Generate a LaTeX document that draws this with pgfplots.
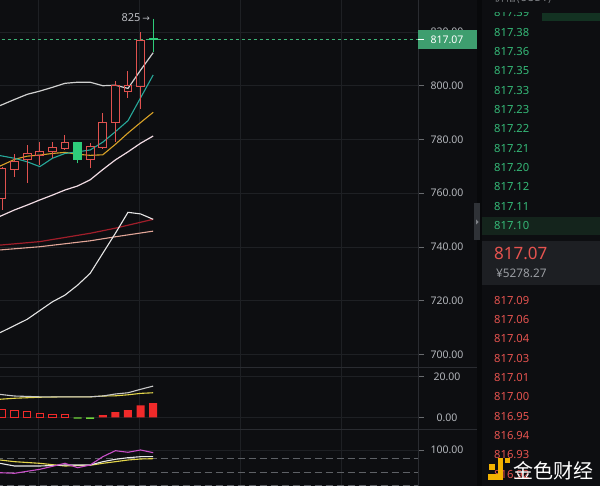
\documentclass[border=0pt]{standalone}
\usepackage{pgfplots}
\pgfplotsset{compat=1.18}
\usepackage{pgfplotstable}
\usepgfplotslibrary{statistics}
\usepackage{fontspec}
\setmainfont{Noto Sans}
\newfontfamily\cjk{Noto Sans CJK SC}
\newfontfamily\dejavu{DejaVu Sans}

\definecolor{bg}{HTML}{0D0E11}
\definecolor{gridc}{HTML}{1E2024}
\definecolor{sepc}{HTML}{2A2C31}
\definecolor{lab}{HTML}{B2B5BA}
\definecolor{candred}{HTML}{E0524F}
\definecolor{candgreen}{HTML}{2ECC7A}
\definecolor{dashg}{HTML}{3DB276}
\definecolor{tagg}{HTML}{3E9E6F}
\definecolor{ubc}{HTML}{D0D0D0}
\definecolor{ma5c}{HTML}{27A89A}
\definecolor{ma10c}{HTML}{D9A227}
\definecolor{lbc}{HTML}{F2DCE4}
\definecolor{mar}{HTML}{A01E2A}
\definecolor{mas}{HTML}{E2A698}
\definecolor{maw}{HTML}{E6E6E6}
\definecolor{macdr}{HTML}{F02A2A}
\definecolor{macdg}{HTML}{6ED43A}
\definecolor{difc}{HTML}{C8C8C8}
\definecolor{deac}{HTML}{E3D54A}
\definecolor{jc}{HTML}{C94FC9}
\definecolor{kc}{HTML}{E8E8E8}
\definecolor{dashgray}{HTML}{5E6166}
\definecolor{obg}{HTML}{35B877}
\definecolor{obr}{HTML}{E5534F}
\definecolor{obgray}{HTML}{9A9DA2}
\definecolor{band}{HTML}{1D1F23}
\definecolor{rowg}{HTML}{14241C}
\definecolor{depthg}{HTML}{133222}
\definecolor{logoy}{HTML}{F2B200}
\definecolor{stripe}{HTML}{08090B}
\definecolor{handlec}{HTML}{2F3237}

\newcommand\tickfont{\fontsize{10.5}{12}\selectfont}
\newcommand\obfont{\fontsize{11.2}{13}\selectfont}

% candles: i open close high low bodybottom bodytop
\pgfplotstableread{
i o c h l bb bt
0 758.1 769.3 769.6 753.8 758.1 769.3
1 768.9 771.7 774.6 765.9 768.9 771.7
2 772.4 774.6 777.8 763.9 772.4 774.6
3 774.2 775.7 778.9 770.5 774.2 775.7
4 775.4 776.9 778.9 773.0 775.4 776.9
5 776.7 778.9 781.7 776.1 776.7 778.9
6 778.9 772.4 779.2 771.1 772.4 778.9
7 772.4 777.3 778.6 769.3 772.4 777.3
8 777.1 786.2 789.7 776.3 777.1 786.2
9 786.2 799.9 801.9 779.2 786.2 799.9
10 797.8 799.9 805.5 795.3 797.8 799.9
11 799.6 816.7 819.9 791.3 799.6 816.7
12 817.4 817.07 825.0 812.7 817.07 817.4
}\candles

\pgfplotstableread{
x y
-0.16 792.6
1 794.9
2 796.8
3 798.0
4 799.4
5 800.9
6 801.3
7 801.3
8 800.0
9 800.2
10 799.0
11 805.8
12 812.3
}\ub
\pgfplotstableread{
x y
-0.16 774.0
1 773.0
2 771.7
3 769.9
4 773.0
5 774.8
6 775.4
7 776.1
8 779.0
9 782.9
10 787.0
11 795.5
12 804.0
}\maF
\pgfplotstableread{
x y
-0.16 770.1
1 772.6
2 773.8
3 774.2
4 774.8
5 775.2
6 774.5
7 774.1
8 774.3
9 778.2
10 782.4
11 786.3
12 790.1
}\maT
\pgfplotstableread{
x y
-0.16 751.4
1 753.8
2 755.6
3 757.5
4 759.3
5 761.2
6 762.7
7 765.0
8 768.8
9 772.4
10 775.4
11 778.6
12 781.3
}\lb
\pgfplotstableread{
x y
-0.16 740.7
3 742.0
7 745.1
9 747.0
12 750.3
}\maR
\pgfplotstableread{
x y
-0.16 738.9
3 740.1
7 742.3
9 743.8
12 745.9
}\maS
\pgfplotstableread{
x y
-0.16 708.1
2 713.1
4 719.6
5 722.1
6 725.8
7 730.2
9 745.1
10 752.9
11 752.3
12 750.3
}\maW

% MACD
\pgfplotstableread{
x y
0 4.1
1 3.6
2 3.1
3 2.1
4 1.6
5 1.6
}\histHollow
\pgfplotstableread{
x y
6 -0.7
7 -0.8
}\histGreen
\pgfplotstableread{
x y
8 1.1
9 2.6
10 3.6
11 5.9
12 7.0
}\histFull
\pgfplotstableread{
x y
-0.16 11.3
1 10.5
3 10.1
5 10.1
7 10.1
8 10.5
9 11.5
10 12.1
11 13.8
12 15.4
}\dif
\pgfplotstableread{
x y
-0.16 8.9
1 9.4
3 9.9
5 10.1
7 10.1
8 10.5
9 10.6
10 11.1
11 11.8
12 12.1
}\dea

% KDJ
\pgfplotstableread{
x y
-0.16 48.5
1 47.2
3 56.2
5 69.8
6 59.9
7 66.0
8 84.8
9 98.4
10 94.8
11 100.0
12 93.9
}\kdjJ
\pgfplotstableread{
x y
-0.16 69.8
1 63.7
3 63.7
5 66.0
7 66.0
8 73.5
9 78.9
10 82.5
11 84.8
12 84.8
}\kdjK
\pgfplotstableread{
x y
-0.16 77.3
1 73.5
3 69.8
5 63.7
7 65.3
8 69.8
9 73.5
10 77.3
11 79.6
12 80.3
}\kdjD

\pgfplotsset{
  panel/.style={
    scale only axis, width=418pt, anchor=south west,
    xmin=-0.159, xmax=33.02,
    axis line style={draw=none},
    xtick={2.86,10.87,18.89,26.9}, xticklabels={},
    xtick style={draw=none},
    ytick pos=right, yticklabel pos=right,
    tick align=outside, major tick length=6pt,
    ytick style={draw=lab!55!bg, line width=0.6pt},
    xmajorgrids, ymajorgrids,
    major grid style={draw=gridc, line width=0.8pt},
    yticklabel style={font=\tickfont, text=lab, anchor=center, xshift=23pt},
    boxplot/draw direction=y,
    boxplot/box extend=0.63, boxplot/whisker extend=0,
  },
}

\newcommand\candle[2]{% #1 row, #2 style
  \pgfplotstablegetelem{#1}{l}\of\candles \let\cL\pgfplotsretval
  \pgfplotstablegetelem{#1}{bb}\of\candles \let\cB\pgfplotsretval
  \pgfplotstablegetelem{#1}{bt}\of\candles \let\cT\pgfplotsretval
  \pgfplotstablegetelem{#1}{h}\of\candles \let\cH\pgfplotsretval
  \edef\cmd{\noexpand\addplot[#2, line width=1pt, boxplot/draw direction=y,
     boxplot prepared={draw position=#1,
     lower whisker=\cL, lower quartile=\cB, median=\cT, upper quartile=\cT,
     upper whisker=\cH}] coordinates {};}%
  \cmd
}

\begin{document}
\begin{tikzpicture}
\useasboundingbox (0pt,0pt) rectangle (600pt,486pt);
\clip (0pt,0pt) rectangle (600pt,486pt);
\fill[bg] (0pt,0pt) rectangle (600pt,486pt);

% ---------- main price panel ----------
\begin{axis}[panel, at={(0pt,119pt)}, height=367pt, ymin=695.35, ymax=831.9,
  ytick={700,720,740,760,780,800,820},
  yticklabels={700.00,720.00,740.00,760.00,780.00,800.00,820.00}]
\addplot[dashg, line width=1.1pt, dash pattern=on 3.5pt off 2.5pt] coordinates {(-0.5,817.07) (34,817.07)};
\addplot[mas, line width=1.1pt] table[x=x,y=y] {\maS};
\addplot[mar, line width=1.2pt] table[x=x,y=y] {\maR};
\addplot[maw, line width=1.1pt] table[x=x,y=y] {\maW};
\addplot[lbc, line width=1.2pt] table[x=x,y=y] {\lb};
\addplot[ubc, line width=1.2pt] table[x=x,y=y] {\ub};
\addplot[ma10c, line width=1.1pt] table[x=x,y=y] {\maT};
\addplot[ma5c, line width=1.1pt] table[x=x,y=y] {\maF};
\pgfplotsinvokeforeach{0,1,2,3,4,5,7,8,9,10,11}{\candle{#1}{candred}}
\pgfplotsinvokeforeach{6,12}{\candle{#1}{candgreen, fill=candgreen}}
\node[anchor=east, text=lab!90!white, font=\fontsize{11}{12}\selectfont, inner sep=0pt] at (axis cs:11.75,825.4)
  {825\,{\dejavu\fontsize{9}{10}\selectfont →}};
\end{axis}

% ---------- MACD panel ----------
\begin{axis}[panel, at={(0pt,56.7pt)}, height=62.3pt, ymin=-5.9, ymax=24.8,
  ytick={0,20}, yticklabels={0.00,20.00}]
\addplot[deac, line width=1.1pt] table[x=x,y=y] {\dea};
\addplot[difc, line width=1.1pt] table[x=x,y=y] {\dif};
\addplot[ybar, bar width=7.5pt, bar shift=0pt, draw=macdr, fill=none, line width=0.9pt] table[x=x,y=y] {\histHollow};
\addplot[ybar, bar width=8pt, bar shift=0pt, draw=none, fill=macdg] table[x=x,y=y] {\histGreen};
\addplot[ybar, bar width=8pt, bar shift=0pt, draw=none, fill=macdr] table[x=x,y=y] {\histFull};
\end{axis}

% ---------- KDJ panel ----------
\begin{axis}[panel, at={(0pt,0pt)}, height=56.7pt, ymin=18.4, ymax=146.9,
  ytick={100}, yticklabels={100.00}]
\addplot[dashgray, line width=0.9pt, dash pattern=on 7pt off 4pt] coordinates {(-0.5,80) (34,80)};
\addplot[dashgray, line width=0.9pt, dash pattern=on 7pt off 4pt] coordinates {(-0.5,50) (34,50)};
\addplot[dashgray, line width=0.9pt, dash pattern=on 7pt off 4pt] coordinates {(-0.5,20) (34,20)};
\addplot[deac, line width=1.1pt] table[x=x,y=y] {\kdjD};
\addplot[kc, line width=1.1pt] table[x=x,y=y] {\kdjK};
\addplot[jc, line width=1.1pt] table[x=x,y=y] {\kdjJ};
\end{axis}

\begin{scope}[x=1pt,y=1pt]
% ---------- frame lines ----------
\draw[sepc, line width=0.9pt] (418,0) -- (418,486);
\draw[sepc, line width=0.9pt] (0,119) -- (478,119);
\draw[sepc, line width=0.9pt] (0,56.7) -- (478,56.7);

% current price tag
\fill[tagg] (418,437) rectangle (476.5,456);
\draw[white, line width=0.8pt] (418,446.2) -- (424,446.2);
\node[text=white, font=\fontsize{10.5}{12}\selectfont\bfseries, inner sep=0pt] at (447,446.3) {817.07};

% ---------- order book ----------
\fill[stripe] (477,0) rectangle (482,486);
\fill[handlec] (474,246) rectangle (480,283);
\fill[lab!60!handlec] (476,266.5) -- (478.6,264) -- (476,261.5) -- cycle;

\fill[depthg] (542,465.3) rectangle (600,473.3);
\fill[rowg] (482,251) rectangle (600,269.3);
\foreach \p/\yy in {817.39/12.9,817.38/32.3,817.36/51.7,817.35/71.0,817.33/90.3,817.23/109.7,817.22/129.0,817.21/148.3,817.20/167.7,817.12/187.0,817.11/206.3,817.10/225.7}
  \node[anchor=west, inner sep=0pt, text=obg, font=\obfont] at (494,486-\yy) {\p};
\fill[bg] (482,474.3) rectangle (600,486);
\node[anchor=west, inner sep=0pt, text=obgray!80!bg, font=\cjk\fontsize{11}{12}\selectfont] at (494,487.8) {价格(USDT)};

\fill[band] (482,201) rectangle (600,245.3);
\node[anchor=west, inner sep=0pt, text=obr, font=\fontsize{17}{20}\selectfont\bfseries] at (494,486-253.3) {817.07};
\node[anchor=west, inner sep=0pt, text=obgray, font=\fontsize{11.8}{13}\selectfont] at (496,486-273.3) {¥5278.27};

\foreach \p/\yy in {817.09/300.3,817.06/319.7,817.04/339.0,817.03/358.3,817.01/377.7,817.00/397.0,816.95/416.3,816.94/435.7,816.93/455.0,816.92/474.3}
  \node[anchor=west, inner sep=0pt, text=obr, font=\obfont] at (494,486-\yy) {\p};

% watermark
\fill[logoy] (489,16) rectangle (495,22);
\fill[logoy] (498,6) rectangle (503,28);
\fill[logoy] (488,6) rectangle (503,12);
\fill[logoy] (505,23) rectangle (510,28);
\node[anchor=west, inner sep=0pt, text=white, font=\cjk\fontsize{20}{22}\selectfont] at (513,15.5) {金色财经};
\end{scope}
\end{tikzpicture}
\end{document}
